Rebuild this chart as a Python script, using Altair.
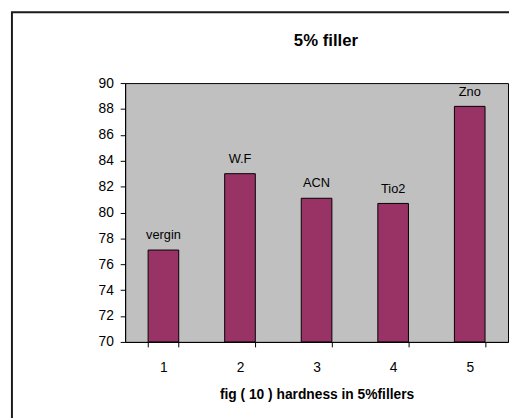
import altair as alt
import pandas as pd

categories = ["1", "2", "3", "4", "5"]
values = [77.1, 83.0, 81.1, 80.7, 88.2]
bar_labels = ["vergin", "W.F", "ACN", "Tio2", "Zno"]
y_ticks = [70, 72, 74, 76, 78, 80, 82, 84, 86, 88, 90]
chart_title = "5% filler"
x_title = "fig ( 10 ) hardness in 5%fillers"

FONT = "Liberation Sans"

df = pd.DataFrame({"cat": categories, "val": values, "lab": bar_labels})

x_scale = alt.Scale(paddingInner=0.6, paddingOuter=0.3)
y_scale = alt.Scale(domain=[70, 90], zero=False, nice=False)

x_enc = alt.X(
    "cat:N",
    sort=categories,
    scale=x_scale,
    axis=alt.Axis(
        title=x_title,
        labelAngle=0,
        tickBand="extent",
        tickSize=5,
        tickColor="black",
        domainColor="black",
        labelFontSize=14,
        labelPadding=14,
        labelColor="black",
        titleFontSize=14,
        titleFontWeight="bold",
        titlePadding=13,
        titleColor="black",
        labelFont=FONT,
        titleFont=FONT,
    ),
)

y_enc = alt.Y(
    "val:Q",
    scale=y_scale,
    axis=alt.Axis(
        title=None,
        values=y_ticks,
        grid=False,
        tickSize=5,
        tickColor="black",
        domainColor="black",
        labelFontSize=14,
        labelPadding=7,
        labelColor="black",
        labelFont=FONT,
        labelOverlap=False,
    ),
)

bars = alt.Chart(df).mark_bar(
    color="#993366", stroke="black", strokeWidth=1
).encode(
    x=x_enc,
    y=y_enc,
    y2=alt.datum(70),
)

texts = alt.Chart(df).mark_text(
    baseline="alphabetic", dy=-11, fontSize=13, font=FONT, color="black"
).encode(
    x=x_enc,
    y=y_enc,
    text="lab:N",
)

title_df = pd.DataFrame({"t": [chart_title]})
title_mark = alt.Chart(title_df).mark_text(
    align="center", baseline="middle", fontSize=17, fontWeight="bold",
    font=FONT, color="black"
).encode(
    x=alt.value(204),
    y=alt.value(-43),
    text="t:N",
)

frame = alt.Chart(pd.DataFrame({"a": [0]})).mark_rect(
    fill="transparent", stroke="#1a1a1a", strokeWidth=2
).encode(
    x=alt.value(-115),
    x2=alt.value(700),
    y=alt.value(-72),
    y2=alt.value(600),
)

chart = alt.layer(bars, texts, title_mark, frame).properties(
    width=389,
    height=263,
    background="white",
    autosize=alt.AutoSizeParams(type="none"),
    padding={"left": 119, "top": 73, "right": 1, "bottom": 74},
).configure_view(
    fill="#C0C0C0", stroke="black", strokeWidth=1
)

chart.save("out.html", embed_options={"renderer": "svg", "actions": False})
